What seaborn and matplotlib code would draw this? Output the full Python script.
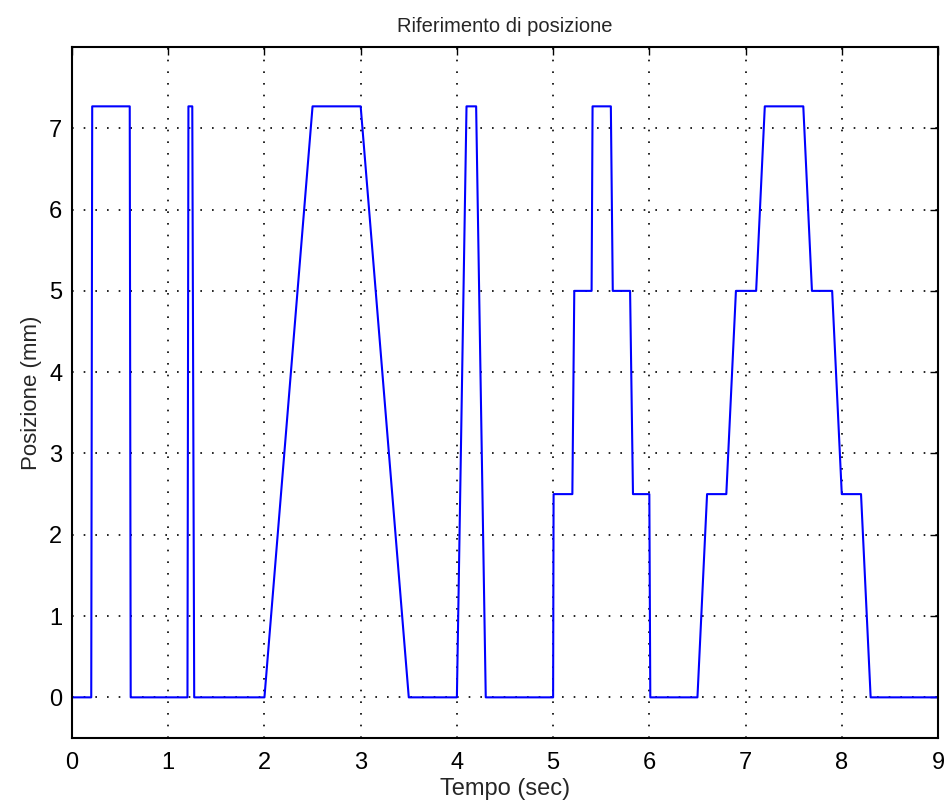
import matplotlib
matplotlib.use("Agg")
import matplotlib.pyplot as plt
import seaborn as sns
import pandas as pd

# Data
H = 7.27
tempo = [0, 0.2, 0.21, 0.6, 0.61, 1.2, 1.21, 1.25, 1.27, 2.0, 2.5, 3.0, 3.5,
         4.0, 4.1, 4.2, 4.3, 5.0, 5.005, 5.2, 5.22, 5.4, 5.41, 5.6, 5.62,
         5.8, 5.83, 6.0, 6.01, 6.5, 6.6, 6.8, 6.9, 7.11, 7.2, 7.6, 7.69,
         7.9, 8.0, 8.2, 8.3, 9.0]
posizione = [0, 0, H, H, 0, 0, H, H, 0, 0, H, H, 0,
             0, H, H, 0, 0, 2.5, 2.5, 5, 5, H, H, 5,
             5, 2.5, 2.5, 0, 0, 2.5, 2.5, 5, 5, H, H, 5,
             5, 2.5, 2.5, 0, 0]
x_ticks = list(range(0, 10))
y_ticks = list(range(0, 8))

sns.set_style("white")
plt.rcParams['font.family'] = ['Liberation Sans', 'DejaVu Sans']

df = pd.DataFrame({"Tempo": tempo, "Posizione": posizione})

fig = plt.figure(figsize=(9.49, 8.07), dpi=100)
ax = fig.add_axes([72/949, 1-738/807, (938-72)/949, (738-47)/807])

sns.lineplot(data=df, x="Tempo", y="Posizione", sort=False, estimator=None,
             color=(0, 0, 1), linewidth=1.5, ax=ax)

ax.set_xlim(0, 9)
ax.set_ylim(-0.5, 8)
ax.set_xticks(x_ticks)
ax.set_yticks(y_ticks)
ax.grid(True, color="black", linestyle=(0, (1, 6)), linewidth=1.2)
ax.tick_params(axis="both", which="both", direction="in", length=6, width=1,
               top=True, right=True, labelsize=17, colors="black", pad=7)
ax.tick_params(axis="x", pad=10)
for s in ax.spines.values():
    s.set_color("black")
    s.set_linewidth(1.5)
    s.set_visible(True)

ax.set_xlabel("Tempo (sec)", fontsize=17, labelpad=3)
ax.set_ylabel("Posizione (mm)", fontsize=16, labelpad=5)
ax.set_title("Riferimento di posizione", fontsize=14.5, pad=11)

fig.savefig("out.png", dpi=100)
